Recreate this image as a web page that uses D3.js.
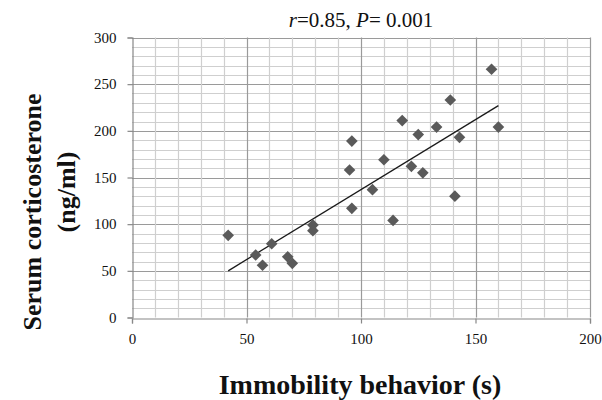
<!DOCTYPE html>
<html>
<head>
<meta charset="utf-8">
<script src="https://cdn.jsdelivr.net/npm/d3@7"></script>
<style>
  body { margin: 0; background: #fff; }
  text { font-family: "Liberation Serif", "Times New Roman", serif; }
</style>
</head>
<body>
<div id="chart"></div>
<script>
// data
var immobility = [42, 54, 57, 61, 68, 70, 79, 79, 95, 96, 96, 105, 110, 114, 118, 122, 125, 127, 133, 139, 141, 143, 157, 160];
var corticosterone = [88, 67, 56, 79, 65, 58, 99, 93, 158, 189, 117, 137, 169, 104, 211, 162, 196, 155, 204, 233, 130, 193, 266, 204];
var trendX = [42, 160];
var trendY = [50, 227];
var xTicks = [0, 50, 100, 150, 200];
var yTicks = [0, 50, 100, 150, 200, 250, 300];

var width = 602;
var height = 400;

var svg = d3.select("#chart")
  .append("svg")
  .attr("width", width)
  .attr("height", height);

var xScale = d3.scaleLinear().domain([0, 200]).range([132, 590]);
var yScale = d3.scaleLinear().domain([0, 300]).range([317.5, 37.5]);

// grid every 10, darker every 50
var grid = svg.append("g").attr("class", "grid");
grid.selectAll("line.hMinor")
  .data(d3.range(10, 301, 10))
  .enter()
  .append("line")
  .attr("x1", xScale(0))
  .attr("x2", xScale(200))
  .attr("y1", function(d) { return Math.round(yScale(d)) + 0.5; })
  .attr("y2", function(d) { return Math.round(yScale(d)) + 0.5; })
  .attr("stroke", function(d) { return d % 50 === 0 ? "#9a9a9a" : "#cfcfcf"; })
  .attr("stroke-width", 1.2);

grid.selectAll("line.vMinor")
  .data(d3.range(10, 201, 10))
  .enter()
  .append("line")
  .attr("y1", yScale(0))
  .attr("y2", yScale(300))
  .attr("x1", function(d) { return Math.round(xScale(d)) + 0.5; })
  .attr("x2", function(d) { return Math.round(xScale(d)) + 0.5; })
  .attr("stroke", function(d) { return d % 50 === 0 ? "#9a9a9a" : "#cfcfcf"; })
  .attr("stroke-width", 1.2);

// axes
var xAxis = d3.axisBottom(xScale).tickValues(xTicks).tickSize(5).tickPadding(10);
var yAxis = d3.axisLeft(yScale).tickValues(yTicks).tickSize(5).tickPadding(11);

var gx = svg.append("g")
  .attr("transform", "translate(0," + (Math.round(yScale(0)) + 0.5) + ")")
  .call(xAxis);
var gy = svg.append("g")
  .attr("transform", "translate(" + (Math.round(xScale(0)) + 0.5) + ",0)")
  .call(yAxis);

[gx, gy].forEach(function(g) {
  g.attr("font-family", null).attr("font-size", null);
  g.select(".domain").attr("stroke", "#888").attr("stroke-width", 1.2);
  g.selectAll(".tick line").attr("stroke", "#888").attr("stroke-width", 1.2);
  g.selectAll(".tick text")
    .style("font-family", "'Liberation Serif', 'Times New Roman', serif")
    .style("font-size", "15px")
    .attr("fill", "#111");
});

// trend line
svg.append("line")
  .attr("x1", xScale(trendX[0]))
  .attr("y1", yScale(trendY[0]))
  .attr("x2", xScale(trendX[1]))
  .attr("y2", yScale(trendY[1]))
  .attr("stroke", "#1a1a1a")
  .attr("stroke-width", 1.3);

// diamonds
var diamond = d3.symbol().type(d3.symbolSquare).size(68);
svg.selectAll("path.point")
  .data(immobility)
  .enter()
  .append("path")
  .attr("class", "point")
  .attr("d", diamond)
  .attr("transform", function(d, i) {
    return "translate(" + xScale(d) + "," + yScale(corticosterone[i]) + ")rotate(45)";
  })
  .attr("fill", "#5a5a5a");

// title
var title = svg.append("text")
  .attr("x", 361)
  .attr("y", 27)
  .attr("text-anchor", "middle")
  .attr("font-size", 21)
  .attr("fill", "#111");
title.append("tspan").attr("font-style", "italic").text("r");
title.append("tspan").text("=0.85, ");
title.append("tspan").attr("font-style", "italic").text("P");
title.append("tspan").text("= 0.001");

// axis titles
svg.append("text")
  .attr("x", 360)
  .attr("y", 394)
  .attr("text-anchor", "middle")
  .attr("font-size", 28)
  .attr("font-weight", "bold")
  .attr("fill", "#111")
  .text("Immobility behavior (s)");

svg.append("text")
  .attr("transform", "translate(41,212)rotate(-90)")
  .attr("text-anchor", "middle")
  .attr("font-size", 26)
  .attr("font-weight", "bold")
  .attr("fill", "#111")
  .text("Serum corticosterone");

svg.append("text")
  .attr("transform", "translate(75,192)rotate(-90)")
  .attr("text-anchor", "middle")
  .attr("font-size", 26)
  .attr("font-weight", "bold")
  .attr("fill", "#111")
  .text("(ng/ml)");
</script>
</body>
</html>
